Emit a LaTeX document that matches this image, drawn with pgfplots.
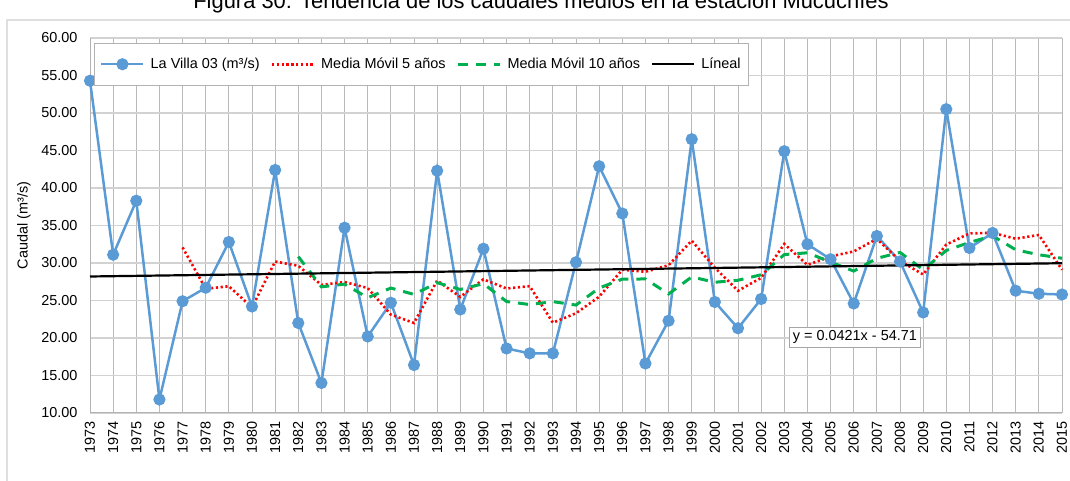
\documentclass[border=0pt]{standalone}
\usepackage{pgfplots}
\pgfplotsset{compat=1.18}
\usepackage{pgfplotstable}
\usepackage{fontspec}
\setmainfont{Liberation Sans}
\definecolor{serieblue}{RGB}{91,155,213}
\definecolor{seriegreen}{RGB}{0,176,80}
\pgfplotstableread{
year q
1973 54.3
1974 31.1
1975 38.3
1976 11.8
1977 24.9
1978 26.7
1979 32.8
1980 24.2
1981 42.4
1982 22.0
1983 14.0
1984 34.7
1985 20.2
1986 24.7
1987 16.4
1988 42.3
1989 23.8
1990 31.9
1991 18.6
1992 17.95
1993 17.95
1994 30.1
1995 42.9
1996 36.6
1997 16.6
1998 22.3
1999 46.5
2000 24.8
2001 21.3
2002 25.2
2003 44.9
2004 32.5
2005 30.5
2006 24.6
2007 33.6
2008 30.2
2009 23.4
2010 50.5
2011 32.0
2012 34.0
2013 26.3
2014 25.9
2015 25.8
}\caudal
\pgfplotstableread{
year m
1977 32.08
1978 26.56
1979 26.90
1980 24.08
1981 30.20
1982 29.62
1983 27.08
1984 27.46
1985 26.66
1986 23.12
1987 22.00
1988 27.66
1989 25.48
1990 27.82
1991 26.60
1992 26.91
1993 22.04
1994 23.30
1995 25.50
1996 29.10
1997 28.83
1998 29.70
1999 32.98
2000 29.36
2001 26.30
2002 28.02
2003 32.54
2004 29.74
2005 30.88
2006 31.54
2007 33.22
2008 30.28
2009 28.46
2010 32.46
2011 33.94
2012 34.02
2013 33.24
2014 33.74
2015 29.10
}\mmcinco
\pgfplotstableread{
year m
1982 30.85
1983 26.82
1984 27.18
1985 25.37
1986 26.66
1987 25.81
1988 27.37
1989 26.47
1990 27.24
1991 24.86
1992 24.46
1993 24.85
1994 24.39
1995 26.66
1996 27.85
1997 27.87
1998 25.87
1999 28.14
2000 27.43
2001 27.70
2002 28.43
2003 31.12
2004 31.36
2005 30.12
2006 28.92
2007 30.62
2008 31.41
2009 29.10
2010 31.67
2011 32.74
2012 33.62
2013 31.76
2014 31.10
2015 30.63
}\mmdiez
\begin{document}
\begin{tikzpicture}[x=1bp,y=1bp]
\useasboundingbox (0,0) rectangle (1070,481);
\draw[gray!25, line width=1.2bp] (7,-5) -- (7,461) -- (1080,461);
\node[font=\fontsize{22}{26}\selectfont, anchor=base, inner sep=0pt] at (541,472) {Figura 30: Tendencia de los caudales medios en la estación Mucuchíes};
\begin{axis}[
  scale only axis, width=972bp, height=375bp,
  at={(90bp,68bp)}, anchor=south west,
  xmin=1973, xmax=2015, ymin=10, ymax=60,
  xtick={1973,...,2015}, ytick={10,15,...,60},
  grid=major,
  x grid style={gray!55, line width=0.8bp},
  y grid style={gray!35, line width=1.3bp},
  axis line style={gray!60, line width=1bp},
  axis x line*=bottom, axis y line*=left,
  major tick length=0pt,
  tick style={draw=none},
  /pgf/number format/assume math mode=true,
  ticklabel style={font=\fontsize{14.5}{17}\selectfont},
  x tick label style={rotate=90, anchor=east, /pgf/number format/1000 sep={}},
  y tick label style={/pgf/number format/.cd, fixed, fixed zerofill, precision=2},
  xticklabel shift=5bp, yticklabel shift=9bp,
  ylabel={Caudal (m³/s)},
  every axis y label/.style={at={(axis description cs:0,0.5)}, xshift=-66bp, rotate=90, anchor=center, font=\fontsize{14.5}{17}\selectfont},
  legend columns=4,
  legend image code/.code={\draw[mark repeat=2,mark phase=2,#1] plot coordinates {(0bp,0bp)(21bp,0bp)(42bp,0bp)};},
  legend style={at={(axis description cs:0,1)}, anchor=north west, xshift=4bp, yshift=-5bp,
    draw=gray!60, fill=white, inner xsep=6bp, inner ysep=13bp,
    font=\fontsize{14.5}{17}\selectfont,
    /tikz/every odd column/.append style={column sep=4bp},
    /tikz/every even column/.append style={column sep=9bp}},
  clip=false,
]
\addplot[serieblue, line width=2.5bp, mark=*, mark size=4.8bp, mark options={fill=serieblue, draw=serieblue}] table[x=year,y=q] {\caudal};
\addlegendentry{La Villa 03 (m³/s)}
\addplot[red, line width=2.6bp, dash pattern=on 2.2bp off 2.6bp] table[x=year,y=m] {\mmcinco};
\addlegendentry{Media Móvil 5 años}
\addplot[seriegreen, line width=3bp, dash pattern=on 10bp off 8bp] table[x=year,y=m] {\mmdiez};
\addlegendentry{Media Móvil 10 años}
\addplot[black, line width=2.2bp] coordinates {(1973,28.2) (2015,29.97)};
\addlegendentry{Líneal}
\node[draw=gray!70, line width=1bp, fill=white, font=\fontsize{14.5}{17}\selectfont, inner sep=3.5bp] at (axis cs:2006.05,20.1) {y = 0.0421x - 54.71};
\end{axis}
\end{tikzpicture}
\end{document}
